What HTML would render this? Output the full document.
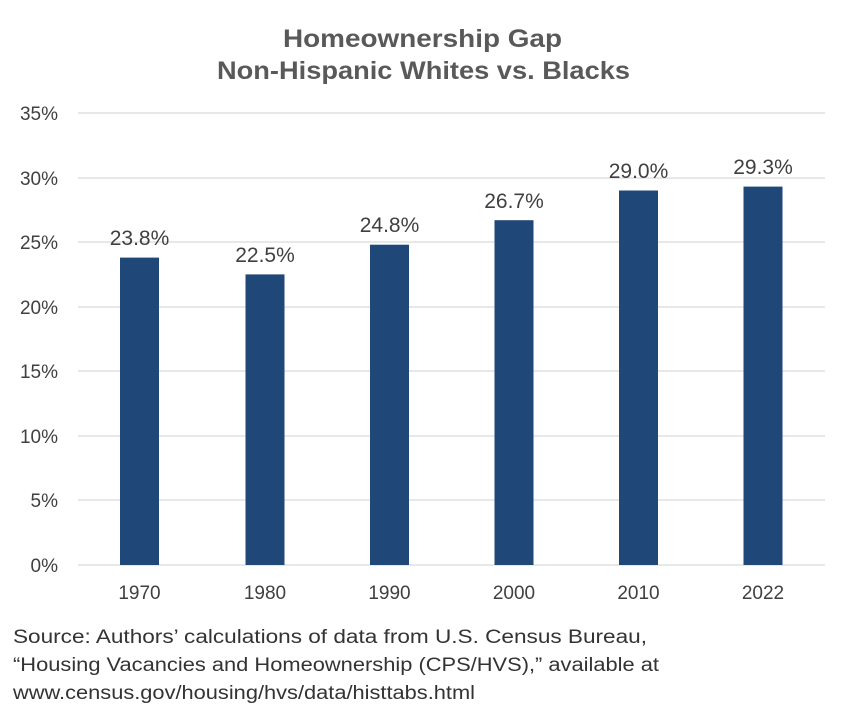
<!DOCTYPE html>
<html><head><meta charset="utf-8"><style>html,body{margin:0;padding:0;background:#fff}svg{display:block}</style></head>
<body>
<svg width="868" height="710" xmlns="http://www.w3.org/2000/svg" font-family="Liberation Sans, sans-serif">
<g fill="#595959" font-weight="bold" font-size="25" text-anchor="middle">
<text x="422.5" y="47" textLength="279" lengthAdjust="spacingAndGlyphs">Homeownership Gap</text>
<text x="423.5" y="79" textLength="413" lengthAdjust="spacingAndGlyphs">Non-Hispanic Whites vs. Blacks</text>
</g>
<g stroke="#d9d9d9" stroke-width="1.3">
<line x1="78" x2="825" y1="113" y2="113"/><line x1="78" x2="825" y1="178" y2="178"/>
<line x1="78" x2="825" y1="242" y2="242"/><line x1="78" x2="825" y1="307" y2="307"/>
<line x1="78" x2="825" y1="371" y2="371"/><line x1="78" x2="825" y1="436" y2="436"/>
<line x1="78" x2="825" y1="500" y2="500"/><line x1="78" x2="825" y1="565" y2="565"/>
</g>
<g fill="#404040" font-size="19" text-anchor="end">
<text x="58" y="120">35%</text><text x="58" y="185">30%</text><text x="58" y="249">25%</text>
<text x="58" y="314">20%</text><text x="58" y="378">15%</text><text x="58" y="443">10%</text>
<text x="58" y="507">5%</text><text x="58" y="572">0%</text>
</g>
<g fill="#1f4778">
<rect x="120" y="257.6" width="39" height="307.4"/>
<rect x="245.5" y="274.4" width="39" height="290.6"/>
<rect x="370" y="244.7" width="39" height="320.3"/>
<rect x="494.5" y="220.2" width="39" height="344.8"/>
<rect x="619" y="190.5" width="39" height="374.5"/>
<rect x="743.5" y="186.6" width="39" height="378.4"/>
</g>
<g fill="#404040" font-size="21" text-anchor="middle">
<text x="139.5" y="245">23.8%</text><text x="265" y="262">22.5%</text>
<text x="389.5" y="232">24.8%</text><text x="514" y="208">26.7%</text>
<text x="638.5" y="178">29.0%</text><text x="763" y="174">29.3%</text>
</g>
<g fill="#404040" font-size="19" text-anchor="middle">
<text x="139.5" y="599">1970</text><text x="265" y="599">1980</text><text x="389.5" y="599">1990</text>
<text x="514" y="599">2000</text><text x="638.5" y="599">2010</text><text x="763" y="599">2022</text>
</g>
<g fill="#333" font-size="19">
<text x="13" y="643" textLength="634" lengthAdjust="spacingAndGlyphs">Source: Authors’ calculations of data from U.S. Census Bureau,</text>
<text x="13" y="671" textLength="646" lengthAdjust="spacingAndGlyphs">“Housing Vacancies and Homeownership (CPS/HVS),” available at</text>
<text x="13" y="699" textLength="462" lengthAdjust="spacingAndGlyphs">www.census.gov/housing/hvs/data/histtabs.html</text>
</g>
</svg>
</body></html>
